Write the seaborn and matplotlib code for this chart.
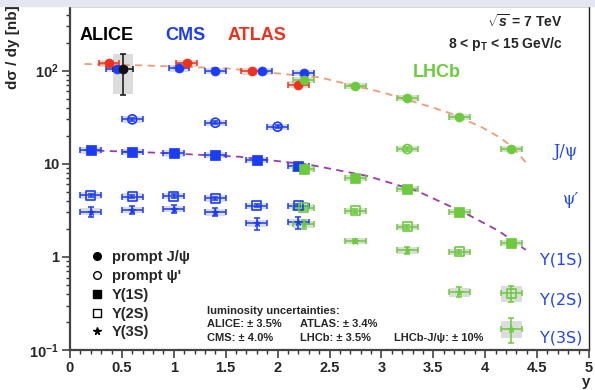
import numpy as np
import pandas as pd
import matplotlib
matplotlib.use("Agg")
import matplotlib.pyplot as plt
import seaborn as sns
from matplotlib.lines import Line2D
from matplotlib.patches import Rectangle
from matplotlib.ticker import FixedLocator, FixedFormatter, MultipleLocator, NullFormatter

# ---------------- data ----------------
# J/psi prompt
alice_jpsi_x = [0.51]
alice_jpsi_v = [103.0]
alice_jpsi_stat = [0.47]
alice_jpsi_syst = [0.46]

cms_jpsi_x = [0.45, 1.05, 1.4, 1.85, 2.25]
cms_jpsi_v = [105.0, 106.0, 100.0, 98.5, 95.0]

atlas_jpsi_x = [0.375, 1.125, 1.75, 2.2]
atlas_jpsi_v = [120.0, 120.0, 98.0, 71.0]

lhcb_jpsi_x = [2.25, 2.75, 3.25, 3.75, 4.25]
lhcb_jpsi_v = [80.0, 69.0, 50.8, 32.0, 14.4]

# psi(2S) prompt
cms_psi2s_x = [0.6, 1.4, 2.0]
cms_psi2s_v = [30.0, 27.6, 25.0]
lhcb_psi2s_x = [3.25]
lhcb_psi2s_v = [14.4]

# Upsilon
cms_y_x = [0.2, 0.6, 1.0, 1.4, 1.8, 2.2]
cms_y1s_v = [14.0, 13.5, 12.9, 12.5, 11.0, 9.5]
cms_y2s_v = [4.6, 4.45, 4.5, 4.27, 3.54, 3.54]
cms_y3s_v = [3.07, 3.2, 3.28, 3.02, 2.3, 2.36]
cms_y3s_stat = [0.12, 0.1, 0.1, 0.1, 0.15, 0.15]

lhcb_y_x = [2.25, 2.75, 3.25, 3.75, 4.25]
lhcb_y1s_v = [8.8, 7.1, 5.4, 3.05, 1.42]
lhcb_y2s_v = [3.39, 3.12, 2.1, 1.13, 0.407]
lhcb_y2s_stat = [0.05, 0.05, 0.05, 0.06, 0.2]
lhcb_y2s_syst = [0.08, 0.08, 0.08, 0.08, 0.19]
lhcb_y3s_v = [2.24, 1.49, 1.18, 0.42, 0.169]
lhcb_y3s_stat = [0.1, 0.05, 0.08, 0.12, 0.3]
lhcb_y3s_syst = [0.08, 0.08, 0.08, 0.11, 0.2]

# fitted curves
jpsi_curve_x = [0.14, 0.7, 1.51, 2.12, 2.4, 2.7, 3.01, 3.49, 3.66, 3.97, 4.14, 4.26, 4.42]
jpsi_curve_v = [118, 114, 106, 90.6, 85, 70.7, 58.5, 40.3, 35, 24.6, 19.2, 15.2, 9.5]
y1s_curve_x = [0.14, 0.87, 1.63, 2.31, 2.86, 3.34, 3.82, 4.13, 4.39]
y1s_curve_v = [14.0, 13.1, 11.9, 9.76, 7.43, 5.13, 2.9, 1.9, 1.19]

x_ticks = [0, 0.5, 1, 1.5, 2, 2.5, 3, 3.5, 4, 4.5, 5]
x_tick_labels = ["0", "0.5", "1", "1.5", "2", "2.5", "3", "3.5", "4", "4.5", "5"]
y_ticks = [0.1, 1, 10, 100]
y_tick_labels = [r"$10^{-1}$", "1", "10", r"$10^{2}$"]

legend_labels = ["prompt J/\u03c8", "prompt \u03c8'", "\u03a5(1S)", "\u03a5(2S)", "\u03a5(3S)"]
right_labels = ["J/\u03c8", "\u03c8\u2032", "\u03a5(1S)", "\u03a5(2S)", "\u03a5(3S)"]

# ---------------- style ----------------
sns.set_theme(style="ticks")
plt.rcParams["font.family"] = ["Liberation Sans", "DejaVu Sans"]
plt.rcParams["mathtext.fontset"] = "custom"
plt.rcParams["mathtext.rm"] = "Liberation Sans:bold"
plt.rcParams["mathtext.bf"] = "Liberation Sans:bold"
plt.rcParams["mathtext.it"] = "Liberation Sans:bold:italic"

BLUE = "#1a3cf5"
RED = "#f0301c"
GREEN = "#6ccb3c"
BOXC = "#dcdcdc"

fig = plt.figure(figsize=(5.95, 3.9), dpi=100)
fig.patch.set_facecolor("white")
fig.patches.append(Rectangle((0, 384 / 390), 1, 6 / 390, transform=fig.transFigure,
                             color="#e4e7f2", zorder=0))
ax = fig.add_axes([70 / 595, 40 / 390, 519 / 595, 344 / 390])
ax.set_yscale("log")


def series(x, v, color, marker, filled=True, stat=None, syst=None, ms=42, xerr=0.1):
    x = np.asarray(x, float)
    v = np.asarray(v, float)
    n = len(x)
    stat = np.full(n, 0.04) if stat is None else np.asarray(stat, float)
    syst = np.full(n, 0.08) if syst is None else np.asarray(syst, float)
    lo = v * (1 - syst)
    hi = v * (1 + syst)
    ax.bar(x, hi - lo, bottom=lo, width=2 * xerr, color=BOXC, zorder=1, linewidth=0)
    ax.errorbar(x, v, xerr=xerr, yerr=v * stat, fmt="none", ecolor=color,
                elinewidth=1.1, capsize=2.2, capthick=1.1, zorder=2)
    df = pd.DataFrame({"x": x, "v": v})
    if filled:
        sns.scatterplot(data=df, x="x", y="v", ax=ax, marker=marker, s=ms,
                        color=color, edgecolor=color, linewidth=0.5, zorder=3, legend=False)
    else:
        sns.scatterplot(data=df, x="x", y="v", ax=ax, marker=marker, s=ms,
                        facecolor="none", edgecolor=color, linewidth=1.2, zorder=3, legend=False)


# curves
sns.lineplot(x=jpsi_curve_x, y=jpsi_curve_v, sort=False, ax=ax, color="#f49a78",
             linestyle=(0, (4, 3)), linewidth=1.3, zorder=1.5)
sns.lineplot(x=y1s_curve_x, y=y1s_curve_v, sort=False, ax=ax, color="#9a3bb0",
             linestyle=(0, (4, 3)), linewidth=1.3, zorder=1.5)

# J/psi
series(cms_jpsi_x, cms_jpsi_v, BLUE, "o")
series(atlas_jpsi_x, atlas_jpsi_v, RED, "o")
series(lhcb_jpsi_x, lhcb_jpsi_v, GREEN, "o")
series(alice_jpsi_x, alice_jpsi_v, "#111111", "o", stat=alice_jpsi_stat, syst=alice_jpsi_syst)
# psi(2S)
series(cms_psi2s_x, cms_psi2s_v, BLUE, "o", filled=False)
series(lhcb_psi2s_x, lhcb_psi2s_v, GREEN, "o", filled=False)
# Upsilon
series(cms_y_x, cms_y1s_v, BLUE, "s")
series(lhcb_y_x, lhcb_y1s_v, GREEN, "s")
series(cms_y_x, cms_y2s_v, BLUE, "s", filled=False)
series(lhcb_y_x, lhcb_y2s_v, GREEN, "s", filled=False, stat=lhcb_y2s_stat, syst=lhcb_y2s_syst)
series(cms_y_x, cms_y3s_v, BLUE, "*", stat=cms_y3s_stat, ms=30)
series(lhcb_y_x, lhcb_y3s_v, GREEN, "*", stat=lhcb_y3s_stat, syst=lhcb_y3s_syst, ms=30)

# ---------------- axes ----------------
ax.set_xlim(0, 5)
ax.set_ylim(0.1, 495)
ax.xaxis.set_major_locator(FixedLocator(x_ticks))
ax.xaxis.set_major_formatter(FixedFormatter(x_tick_labels))
ax.xaxis.set_minor_locator(MultipleLocator(0.1))
ax.yaxis.set_major_locator(FixedLocator(y_ticks))
ax.yaxis.set_major_formatter(FixedFormatter(y_tick_labels))
minors = [m * 10.0 ** e for e in (-1, 0, 1, 2) for m in range(2, 10)]
ax.yaxis.set_minor_locator(FixedLocator(minors))
ax.yaxis.set_minor_formatter(NullFormatter())
for lab in ax.get_xticklabels() + ax.get_yticklabels():
    lab.set_fontweight("bold")
    lab.set_fontsize(10.5)
ax.tick_params(axis="both", which="major", direction="out", length=6, width=1.1, color="#333333", pad=2)
ax.tick_params(axis="both", which="minor", direction="out", length=3, width=1.0, color="#333333")
ax.tick_params(top=False, right=False)
for side in ("left", "bottom"):
    ax.spines[side].set_linewidth(1.6)
    ax.spines[side].set_color("#444444")
for side in ("top", "right"):
    ax.spines[side].set_linewidth(1.0)
    ax.spines[side].set_color("#222222")
ax.set_xlabel("")
ax.set_ylabel("")
ax.grid(False)

fig.text(13 / 595, 1 - 5 / 390, "d\u03c3 / dy [nb]", rotation=90, ha="center", va="top",
         fontsize=11, fontweight="bold")
fig.text(586 / 595, 1 - 382 / 390, "y", ha="center", va="center", fontsize=11, fontweight="bold")

# experiment names
ax.text(0.019, 0.913, "ALICE", transform=ax.transAxes, fontsize=13, fontweight="bold",
        color="black", va="center", ha="left")
ax.text(0.183, 0.913, "CMS", transform=ax.transAxes, fontsize=13, fontweight="bold",
        color=BLUE, va="center", ha="left")
ax.text(0.304, 0.913, "ATLAS", transform=ax.transAxes, fontsize=13, fontweight="bold",
        color=RED, va="center", ha="left")
ax.text(0.661, 0.808, "LHCb", transform=ax.transAxes, fontsize=13, fontweight="bold",
        color=GREEN, va="center", ha="left")
ax.text(0.948, 0.956, r"$\sqrt{s}$ = 7 TeV", transform=ax.transAxes, fontsize=10,
        fontweight="bold", ha="right", va="center")
ax.text(0.948, 0.89, r"8 < p$_{\mathrm{T}}$ < 15 GeV/c", transform=ax.transAxes, fontsize=10,
        fontweight="bold", ha="right", va="center")

# luminosity box text
lk = dict(transform=ax.transAxes, fontsize=8, fontweight="bold", ha="left", va="center")
ax.text(0.264, 0.113, "luminosity uncertainties:", **lk)
ax.text(0.264, 0.076, "ALICE: \u00b1 3.5%", **lk)
ax.text(0.443, 0.076, "ATLAS: \u00b1 3.4%", **lk)
ax.text(0.264, 0.036, "CMS: \u00b1 4.0%", **lk)
ax.text(0.443, 0.036, "LHCb: \u00b1 3.5%", **lk)
ax.text(0.624, 0.036, "LHCb-J/\u03c8: \u00b1 10%", **lk)

# right-side labels
rl_pos = [(553, 151), (563, 200), (540, 260), (540, 300), (540, 338)]
for lab, (px, py) in zip(right_labels, rl_pos):
    fam = ["DejaVu Serif"] if "\u03c8" in lab else ["DejaVu Sans"]
    ax.text((px - 70) / 519, (350 - py) / 344, lab, transform=ax.transAxes, fontsize=11.5,
            color="#2244ee", ha="left", va="center", family=fam)

# legend
handles = [
    Line2D([], [], ls="none", marker="o", color="black", ms=5.5),
    Line2D([], [], ls="none", marker="o", mfc="none", mec="black", ms=5.5, mew=1.0),
    Line2D([], [], ls="none", marker="s", color="black", ms=5.5),
    Line2D([], [], ls="none", marker="s", mfc="none", mec="black", ms=5.5, mew=1.0),
    Line2D([], [], ls="none", marker="*", color="black", ms=5.5),
]
leg = ax.legend(handles, legend_labels, loc="upper left", bbox_to_anchor=(0.038, 0.29),
                frameon=False, handlelength=1.0, handletextpad=0.5, labelspacing=0.33,
                borderaxespad=0, borderpad=0,
                prop={"weight": "bold", "size": 10.5})

fig.savefig("out.png", dpi=100)
